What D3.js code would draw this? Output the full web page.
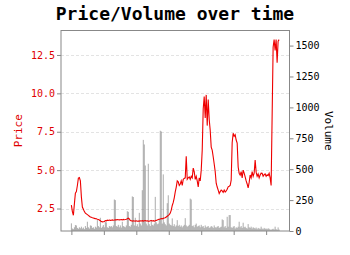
<!DOCTYPE html>
<html><head><meta charset="utf-8">
<script src="https://cdn.jsdelivr.net/npm/d3@7"></script>
<style>body{margin:0;background:#fff;} svg{display:block;}</style>
</head><body><svg id="c" width="350" height="255"></svg>
<script>
const price = [
2.72,2.3,2.06,2.8,3.5,3.6,4.0,4.48,4.52,4.3,
3.26,2.6,2.45,2.3,2.2,2.15,2.1,2.05,2.0,1.95,
1.93,1.9,1.88,1.86,1.84,1.83,1.8,1.78,1.75,1.7,
1.65,1.63,1.64,1.66,1.72,1.7,1.74,1.72,1.75,1.73,
1.74,1.76,1.74,1.75,1.77,1.76,1.78,1.77,1.76,1.77,
1.78,1.76,1.79,1.77,1.78,1.8,1.83,1.87,1.82,1.72,
1.7,1.68,1.7,1.69,1.68,1.7,1.67,1.69,1.68,1.7,
1.69,1.71,1.68,1.7,1.72,1.69,1.7,1.68,1.67,1.7,
1.72,1.69,1.71,1.68,1.7,1.73,1.75,1.78,1.8,1.82,
1.85,1.83,1.86,1.88,1.9,1.95,2.0,2.05,2.1,2.2,
2.4,2.7,2.9,3.2,3.58,3.9,4.3,4.24,4.0,4.1,
4.3,4.0,4.4,4.46,4.5,5.9,4.4,4.5,4.56,4.4,
4.6,4.5,5.13,4.9,4.4,4.6,4.3,3.9,4.5,4.3,
5.0,6.3,9.0,9.8,8.4,9.9,7.9,9.6,8.3,7.6,
6.5,6.3,5.87,5.4,4.9,4.15,3.9,3.7,3.48,3.6,
3.7,3.65,3.55,3.7,3.58,3.65,3.75,3.91,3.95,4.0,
4.35,6.8,7.4,7.2,7.3,6.96,6.76,5.2,4.8,4.68,
4.9,4.5,5.0,4.8,4.56,4.3,4.1,3.85,4.2,4.68,
4.5,4.9,4.6,4.8,5.65,4.87,4.6,4.75,4.5,4.68,
4.8,4.79,4.6,4.7,4.75,4.6,4.7,4.65,4.8,4.5,
4.0,8.5,13.0,13.5,12.8,13.5,12.0,13.4,13.5
];
const volume = [
62,20,15,30,48,45,25,18,30,22,
35,20,28,15,40,25,75,30,20,45,
42,25,30,18,35,28,88,40,30,107,
25,35,48,30,75,70,30,25,40,35,
40,30,45,255,250,40,35,50,30,45,
28,75,40,35,30,45,160,155,40,35,
50,280,275,45,107,40,55,35,147,60,
45,330,737,700,530,60,45,544,55,40,
90,50,45,60,276,70,55,60,100,811,
805,60,458,70,55,45,225,289,60,50,
45,102,40,55,35,45,88,40,50,35,
45,30,40,50,104,45,35,40,50,262,
255,40,45,30,50,60,35,40,45,30,
50,35,40,25,45,30,35,40,25,30,
40,35,25,45,30,28,35,40,25,30,
35,94,88,30,40,25,115,35,129,129,
30,25,35,40,20,30,25,35,75,30,
40,25,67,30,35,25,20,56,30,25,
35,20,30,25,20,28,15,25,20,18,
35,20,15,25,18,20,15,22,18,12,
10,15,18,12,35,15,10,29,12
];
const priceTicks = [2.5, 5, 7.5, 10, 12.5];
const volumeTicks = [0, 250, 500, 750, 1000, 1250, 1500];
const xTicks = [0, 32.5, 65, 97.5, 130, 162.5, 195];

const svg = d3.select("#c");
const L = 61, R = 289.5, T = 30.5, B = 231;
const font = "DejaVu Sans Mono, monospace";

const n = price.length;
const xm = (n - 1) * 0.05;
const x = d3.scaleLinear().domain([-xm, n - 1 + xm]).range([L, R]);
const pmin = d3.min(price), pmax = d3.max(price);
const pm = (pmax - pmin) * 0.05;
const y = d3.scaleLinear().domain([pmin - pm, pmax + pm]).range([B, T]);
const yv = d3.scaleLinear().domain([0, d3.max(volume) * 2]).range([B, T]);

// grid
svg.append("g").selectAll("line").data(priceTicks).join("line")
  .attr("x1", L).attr("x2", R)
  .attr("y1", d => Math.round(y(d)) + 0.5).attr("y2", d => Math.round(y(d)) + 0.5)
  .attr("stroke", "#dcdcdc").attr("stroke-width", 0.8).attr("stroke-dasharray", "3,2");

// volume bars
const bw = Math.max(1, x(1) - x(0));
svg.append("g").selectAll("rect").data(volume).join("rect")
  .attr("x", (d, i) => x(i) - bw / 2)
  .attr("width", bw)
  .attr("y", d => yv(d))
  .attr("height", d => B - yv(d))
  .attr("fill", "#808080").attr("fill-opacity", 0.65);

// price line
svg.append("path").datum(price)
  .attr("d", d3.line().x((d, i) => x(i)).y(d => y(d)))
  .attr("fill", "none").attr("stroke", "#ee0000").attr("stroke-width", 1.1);

// frame
svg.append("rect").attr("x", L).attr("y", T).attr("width", R - L).attr("height", B - T)
  .attr("fill", "none").attr("stroke", "#888").attr("stroke-width", 1);

// axes
const ax = svg.append("g").attr("transform", `translate(0,${B})`)
  .call(d3.axisBottom(x).tickValues(xTicks).tickSize(4).tickFormat(""));
ax.select(".domain").remove();
ax.selectAll("line").attr("stroke", "#888");

const ay = svg.append("g").attr("transform", `translate(${L},0)`)
  .call(d3.axisLeft(y).tickValues(priceTicks).tickSize(4).tickPadding(2).tickFormat(d3.format(".1f")));
ay.select(".domain").remove();
ay.selectAll("line").attr("stroke", "#888");
ay.selectAll("text").attr("fill", "#e00000").style("font-family", font).style("font-size", "10px");

const ay2 = svg.append("g").attr("transform", `translate(${R},0)`)
  .call(d3.axisRight(yv).tickValues(volumeTicks).tickSize(4).tickPadding(2).tickFormat(d3.format("d")));
ay2.select(".domain").remove();
ay2.selectAll("line").attr("stroke", "#888");
ay2.selectAll("text").attr("fill", "#000").style("font-family", font).style("font-size", "10px");

// labels
svg.append("text").attr("x", 175).attr("y", 20).attr("text-anchor", "middle")
  .style("font-family", font).style("font-size", "18px").style("font-weight", "bold")
  .text("Price/Volume over time");

svg.append("text").attr("transform", `translate(22,${(T + B) / 2}) rotate(-90)`)
  .attr("text-anchor", "middle").attr("fill", "#e00000")
  .style("font-family", font).style("font-size", "11px").text("Price");

svg.append("text").attr("transform", `translate(325,${(T + B) / 2}) rotate(90)`)
  .attr("text-anchor", "middle").attr("fill", "#000")
  .style("font-family", font).style("font-size", "11px").text("Volume");
</script>
</body></html>
